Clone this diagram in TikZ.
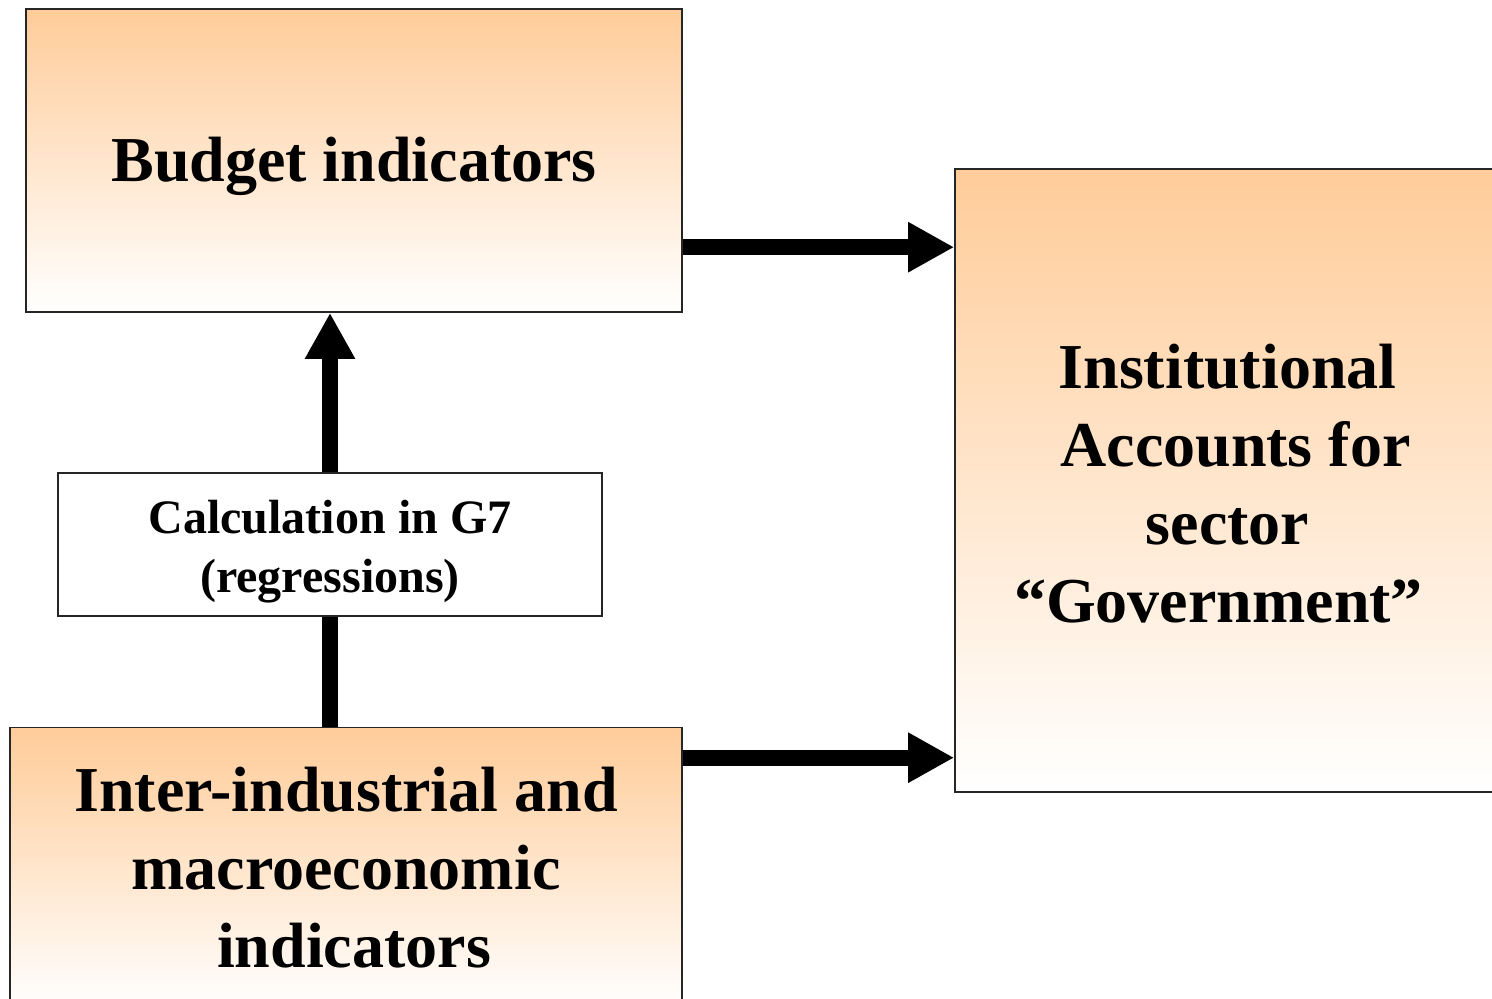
\documentclass[tikz,border=0pt]{standalone}
\usepackage{fontspec}
\setmainfont{Liberation Serif}
\usetikzlibrary{arrows.meta,calc}
\definecolor{peach}{HTML}{FFCC99}
\tikzset{
  box/.style={draw=black!85, line width=0.8pt, inner sep=0pt, align=center,
    font=\fontsize{32}{39}\selectfont\bfseries},
  shadedbox/.style={box, top color=peach, bottom color=white},
  calcbox/.style={box, fill=white, font=\fontsize{24}{29.5}\selectfont\bfseries},
  bigarrow/.style={line width=8pt, -{Triangle[length=23pt,width=23.5pt]}},
  link/.style={line width=8pt}
}
\begin{document}
\begin{tikzpicture}[x=0.5pt, y=-0.5pt]
  \useasboundingbox (0,0) rectangle (1492,999);
  \clip (0,0) rectangle (1492,999);

  \node[shadedbox, minimum width=328pt, minimum height=151.5pt] (budget)
    at (354,160.5) {\rule{0pt}{28pt}Budget indicators};
  \node[shadedbox, minimum width=272.5pt, minimum height=311.5pt] (inst)
    at (1227.5,480.5) {\rule{0pt}{25pt}Institutional\\\hspace*{8pt}Accounts for\\sector\\“Government”\hspace*{9pt}};
  \node[calcbox, minimum width=272pt, minimum height=71.5pt] (calc)
    at (330,544.5) {\rule{0pt}{23.5pt}Calculation in G7\\(regressions)};
  \node[shadedbox, minimum width=336pt, minimum height=140.5pt] (inter)
    at (346,868) {Inter-industrial and\\macroeconomic\\\hspace*{8pt}indicators};

  % flows into the institutional accounts
  \coordinate (b1) at ($(budget.north east)+(0,239)$);
  \draw[bigarrow] (b1) -- (b1 -| inst.west);
  \coordinate (i1) at ($(inter.north east)+(0,31)$);
  \draw[bigarrow] (i1) -- (i1 -| inst.west);

  % calculation chain
  \draw[bigarrow] (calc.north) -- (calc.north |- budget.south);
  \draw[link] (calc.south) -- (calc.south |- inter.north);
\end{tikzpicture}
\end{document}
